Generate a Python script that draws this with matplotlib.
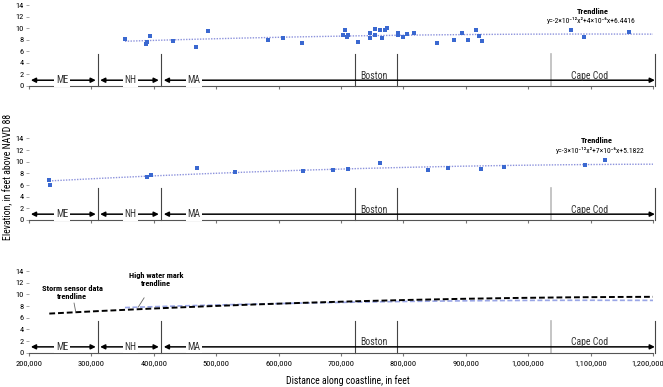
import numpy as np
import matplotlib.pyplot as plt
from matplotlib import font_manager as fm
from matplotlib.transforms import ScaledTranslation

# pick the narrowest sans that is installed
names = {f.name for f in fm.fontManager.ttflist}
base = next(n for n in ['Liberation Sans Narrow', 'Roboto Condensed', 'Open Sans Condensed',
                        'Liberation Sans', 'DejaVu Sans'] if n in names)
plt.rcParams['font.family'] = [base, 'DejaVu Sans']
fs = 6 if 'Narrow' in base or 'Condensed' in base else 5.3

# high water marks (top panel): distance along coastline (ft), elevation (ft NAVD 88)
hwm_x = [353800, 394400, 388600, 387000, 430800, 467600, 487300, 583500,
         607500, 638000, 706400, 702700, 710700, 709100, 727200, 747000,
         747000, 754500, 755000, 763000, 765700, 771000, 774200, 790900,
         790900, 799400, 805800, 817500, 853800, 880600, 894400, 903500,
         915900, 921600, 925500, 1068100, 1089900, 1162000]
hwm_y = [8.07, 8.69, 7.55, 7.30, 7.72, 6.80, 9.50, 8.00,
         8.24, 7.37, 9.62, 8.81, 8.81, 8.41, 7.55, 9.10,
         8.35, 9.84, 8.76, 9.72, 8.35, 9.62, 10.07, 9.10,
         8.86, 8.46, 8.93, 9.10, 7.48, 8.00, 9.10, 8.00,
         9.62, 8.64, 7.82, 9.72, 8.46, 9.38]

# storm sensors (middle panel)
sensor_x = [232500, 234100, 389100, 396000, 469700, 529600, 639600, 686700,
            711200, 762500, 839900, 871000, 923900, 961700, 1090500, 1122600]
sensor_y = [6.86, 6.06, 7.32, 7.78, 8.86, 8.18, 8.35, 8.63,
            8.80, 9.72, 8.58, 8.86, 8.70, 9.04, 9.43, 10.29]

hwm_eq = "y=-2×10⁻¹²x²+4×10⁻⁶x+6.4416"
sensor_eq = "y=-3×10⁻¹²x²+7×10⁻⁶x+5.1822"

# region markers
state_bounds = [310000, 411000]
boston_bounds = [722000, 790000]
capecod_start = 1037000
x_end = 1203000
x_ticks = np.arange(200000, 1200001, 100000)

W, H = 663, 387
fig = plt.figure(figsize=(W / 100, H / 100), dpi=100)


def make_ax(bottom_px, top_px):
    return fig.add_axes([29 / W, 1 - bottom_px / H, 624 / W, (bottom_px - top_px) / H])


def trend(x, y, x_from):
    c = np.polyfit(x, y, 2)
    xs = np.linspace(x_from, 1200000, 200)
    return c, xs, np.polyval(c, xs)


def decorate(ax):
    ax.set_xlim(200000, 1200000)
    ax.set_ylim(0, 14)
    ax.set_yticks(range(0, 15, 2))
    ax.set_xticks(x_ticks)
    for s in ['top', 'right', 'left']:
        ax.spines[s].set_visible(False)
    ax.spines['bottom'].set_color('#555555')
    ax.spines['bottom'].set_linewidth(0.8)
    ax.tick_params(axis='x', length=2.5, width=0.8, color='#777777', pad=3, labelsize=fs)
    ax.tick_params(axis='y', length=2, width=0.6, color='#999999', pad=2, labelsize=fs)
    ax.patch.set_alpha(0)
    # separators
    for xv in state_bounds + boston_bounds + [x_end]:
        ax.plot([xv, xv], [0, 5.5], color='#444444', lw=0.8, clip_on=False)
    ax.plot([capecod_start] * 2, [0, 5.5], color='#bbbbbb', lw=1.2, clip_on=False)
    # state arrows
    arrow = dict(arrowstyle='<|-|>', color='black', lw=1.1, mutation_scale=7,
                 shrinkA=0, shrinkB=0)
    for x0, x1, lab, xt in [(203000, 307000, 'ME', 253000),
                            (314000, 408000, 'NH', 362000),
                            (416000, x_end, 'MA', 464000)]:
        ax.annotate('', xy=(x1, 1), xytext=(x0, 1), arrowprops=arrow, annotation_clip=False)
        ax.text(xt, 1, lab, ha='center', va='center', fontsize=fs + 1, color='#333333',
                bbox=dict(boxstyle='square,pad=0.15', fc='white', ec='none'))
    ax.text(753000, 1.8, 'Boston', ha='center', va='center', fontsize=fs + 1, color='#333333')
    ax.text(1099000, 1.8, 'Cape Cod', ha='center', va='center', fontsize=fs + 1, color='#333333')


# top panel: high water marks
ax1 = make_ax(86, 5)
decorate(ax1)
ax1.set_xticklabels([])
hc, tx, ty = trend(hwm_x, hwm_y, min(hwm_x))
ax1.plot(tx, ty, color='#8c92dc', lw=1, ls=(0, (1, 1)))
ax1.plot(hwm_x, hwm_y, 's', color='#3a68d0', ms=2.6, mew=0)
ax1.text(1103800, 12.95, 'Trendline', ha='center', va='center', fontsize=fs, weight='bold')
ax1.text(1100600, 11.4, hwm_eq, ha='center', va='center', fontsize=fs - 0.5)

# middle panel: storm sensors
ax2 = make_ax(220, 138.4)
decorate(ax2)
ax2.set_xticklabels([])
sc, sx, sy = trend(sensor_x, sensor_y, min(sensor_x))
ax2.plot(sx, sy, color='#8c92dc', lw=1, ls=(0, (1, 1)))
ax2.plot(sensor_x, sensor_y, 's', color='#3a68d0', ms=2.6, mew=0)
ax2.text(1110300, 13.7, 'Trendline', ha='center', va='center', fontsize=fs, weight='bold')
ax2.text(1115000, 12.0, sensor_eq, ha='center', va='center', fontsize=fs - 0.5)

# bottom panel: both trendlines
ax3 = make_ax(352.7, 271)
decorate(ax3)
ax3.set_xticklabels([f'{v:,}' for v in x_ticks])
last = ax3.get_xticklabels()[-1]
last.set_transform(last.get_transform() + ScaledTranslation(-5 / 100, 0, fig.dpi_scale_trans))
ax3.plot(tx, ty, color='#9aa6e6', lw=1.2, ls=(0, (3, 1.5)))
ax3.plot(sx, sy, color='black', lw=1.4, ls=(0, (3, 1.5)))
ax3.annotate('Storm sensor data\ntrendline', xy=(275000, np.polyval(sc, 275000)),
             xytext=(269000, 10.3), ha='center', va='center', fontsize=fs, weight='bold',
             arrowprops=dict(arrowstyle='-', color='#666666', lw=0.6, shrinkA=7, shrinkB=0))
ax3.annotate('High water mark\ntrendline', xy=(375000, np.polyval(hc, 375000)),
             xytext=(403500, 12.6), ha='center', va='center', fontsize=fs, weight='bold',
             arrowprops=dict(arrowstyle='-', color='#666666', lw=0.6, shrinkA=7, shrinkB=0))

fig.text(348 / W, 1 - 381 / H, 'Distance along coastline, in feet', ha='center', va='center',
         fontsize=fs + 1)
fig.text(8 / W, 1 - 177 / H, 'Elevation, in feet above NAVD 88', ha='center', va='center',
         rotation=90, fontsize=fs + 1)

fig.savefig('out.png', dpi=100)
